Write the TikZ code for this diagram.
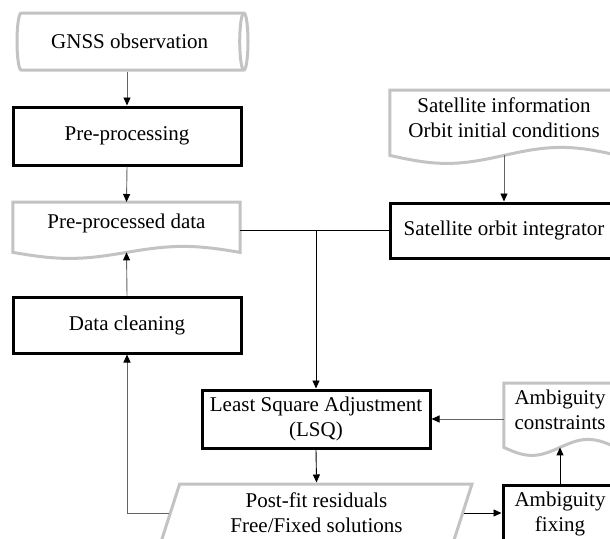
\documentclass[tikz,border=0pt]{standalone}
\usepackage{fontspec}
\setmainfont{Liberation Serif}
\usetikzlibrary{shapes.geometric,arrows.meta,calc}
\definecolor{docgray}{RGB}{195,195,195}
\definecolor{linegray}{RGB}{100,100,100}
\newcommand{\docwave}[3]{%
  \draw [docline] ($(#1.south west)+(0,#3)$) -- (#1.north west) -- (#1.north east) -- ($(#1.south east)+(0,#3)$)
    sin ($(#1.south west)!0.75!(#1.south east)+(0,#3-#2)$)
    cos ($(#1.south west)!0.5!(#1.south east)+(0,#3)$)
    sin ($(#1.south west)!0.25!(#1.south east)+(0,#3+#2)$)
    cos ($(#1.south west)+(0,#3)$) -- cycle;}
\begin{document}
\begin{tikzpicture}[x=1pt,y=-1pt,font=\fontsize{21}{25}\selectfont]
  \tikzstyle{every node}+=[inner sep=0pt]
  \tikzstyle{process}=[draw=black, line width=3pt, minimum width=228pt, minimum height=57pt, align=center]
  \tikzstyle{datanode}=[minimum width=228pt, align=center]
  \tikzstyle{docline}=[draw=docgray, line width=3pt]
  \tikzstyle{flow}=[draw=black, line width=0.9pt, -{Triangle[length=8pt,width=7pt,color=black]}]
  \tikzstyle{grayflow}=[flow, draw=linegray]
  \useasboundingbox (0,0) rectangle (610,538);
  \clip (0,0) rectangle (610,538);
  \node [cylinder, docline, shape aspect=0.56, minimum height=231pt, minimum width=57pt, anchor=shape center] (gnss) at (132.5,41.5) {GNSS observation};
  \node [process, minimum height=58pt] (pre) at (127,136) {Pre-processing};
  \node [datanode, minimum width=227pt, minimum height=42pt, anchor=north] (ppd) at (126.5,202) {Pre-processed data};
  \docwave{ppd}{6}{8}
  \node [process, minimum height=56pt] (clean) at (127,325) {Data cleaning};
  \node [datanode, minimum height=55pt, anchor=north] (info) at (504,90) {Satellite information\\Orbit initial conditions};
  \docwave{info}{8}{10}
  \node [process, minimum height=55pt] (orbit) at (504,230.5) {Satellite orbit integrator};
  \node [process, minimum height=58pt] (lsq) at (316,419) {Least Square Adjustment\\(LSQ)};
  \node [datanode, minimum width=112pt, minimum height=54pt, anchor=north] (con) at (560,383) {Ambiguity\\constraints};
  \docwave{con}{8}{10}
  \node [trapezium, trapezium left angle=65, trapezium right angle=115, trapezium stretches body, docline, minimum width=311pt, minimum height=58pt, align=center] (post) at (316.5,513) {Post-fit residuals\\Free/Fixed solutions};
  \node [process, minimum width=114pt, minimum height=57pt] (fix) at (560,513.5) {Ambiguity\\fixing};
  \draw [grayflow] (pre.north |- gnss.south) -- (pre.north);
  \draw [grayflow] (pre.south) -- (ppd.north);
  \draw [grayflow] (clean.north) -- ($(ppd.south)+(0,8)$);
  \draw [line width=0.9pt] (ppd.east |- orbit.west) -- (orbit.west);
  \draw [flow] (lsq.north |- orbit.west) -- (lsq.north);
  \draw [grayflow] ($(info.south)+(0,10)$) -- (orbit.north);
  \draw [flow] (lsq.south) -- (post.north);
  \draw [grayflow] (lsq.east -| con.west) -- (lsq.east);
  \draw [flow] (fix.north) -- ($(con.south)+(0,10)$);
  \draw [flow] (post.east) -- (post.east -| fix.west);
  \draw [grayflow] (post.west) -| (clean.south);
\end{tikzpicture}
\end{document}
